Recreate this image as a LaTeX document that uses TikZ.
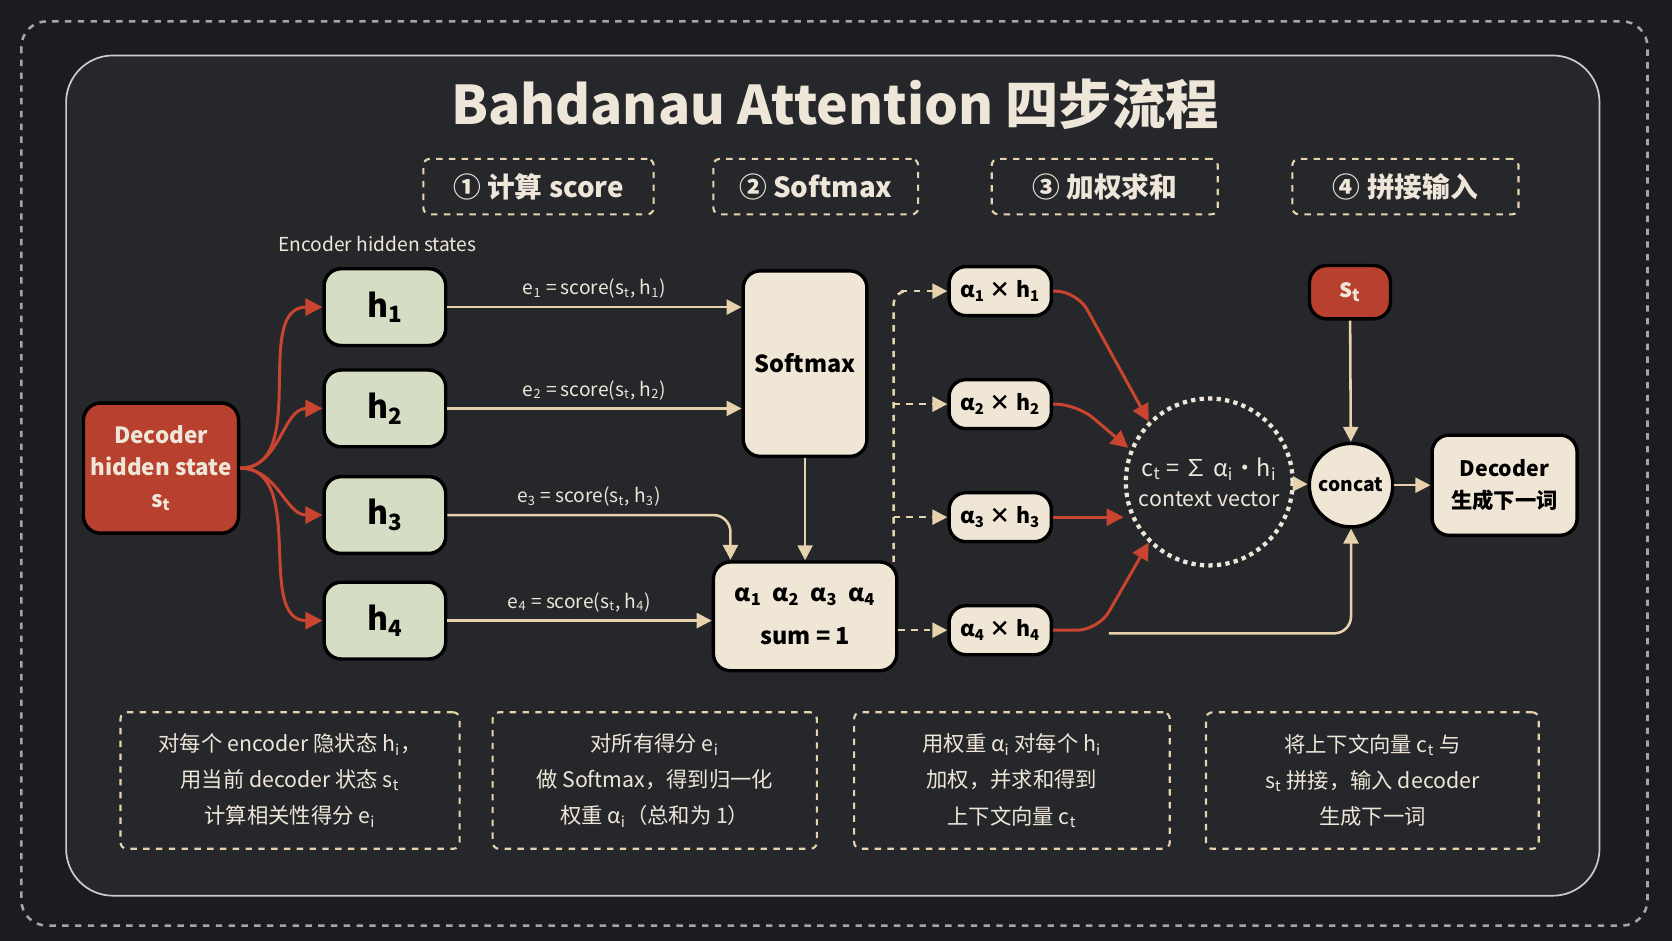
\documentclass[tikz,border=0pt]{standalone}
\usepackage{fontspec}
\setmainfont{Noto Sans CJK SC}
\usetikzlibrary{arrows.meta}

\definecolor{bgdark}{HTML}{1B1C1F}
\definecolor{panel}{HTML}{26272B}
\definecolor{cream}{HTML}{EFE6D6}
\definecolor{line}{HTML}{E6D3AE}
\definecolor{redbox}{HTML}{B8402E}
\definecolor{redline}{HTML}{C9452F}
\definecolor{greenbox}{HTML}{D5DEC4}
\definecolor{txt}{HTML}{EEE6D8}

\newcommand{\sub}[1]{\textsubscript{#1}}

\begin{document}
\begin{tikzpicture}[x=0.5pt, y=-0.5pt, font=\bfseries]
\tikzset{
  card/.style = {rectangle, rounded corners=8pt, draw=black, line width=1.6pt, text=black, font=\bfseries\fontsize{11}{13}\selectfont},
  hbox/.style = {card, fill=greenbox, minimum width=57pt, minimum height=36pt, font=\bfseries\fontsize{15}{17}\selectfont},
  pbox/.style = {card, fill=cream, minimum width=48pt, minimum height=23pt, font=\bfseries\fontsize{10}{12}\selectfont},
  stepbox/.style = {rectangle, rounded corners=3pt, draw=line, dashed, line width=1pt, text=txt, font=\bfseries\fontsize{13}{15}\selectfont},
  notebox/.style = {rectangle, rounded corners=3pt, draw=line, dashed, line width=1pt, text=txt, align=center, font=\fontsize{10}{17}\selectfont},
  arr/.style = {-{Triangle[length=7pt,width=7pt]}, line width=1.2pt, draw=line},
  redarr/.style = {-{Triangle[length=8pt,width=8pt]}, line width=1.4pt, draw=redline},
  dasharr/.style = {arr, dashed},
  elabel/.style = {text=txt, font=\fontsize{9}{11}\selectfont}
}
% background
\fill[bgdark] (0,0) rectangle (1568,882);
\useasboundingbox (0,0) rectangle (1568,882);
\draw[line width=1.2pt, dashed, draw=gray!70, rounded corners=12pt] (20,20) rectangle (1545,868);
\draw[fill=panel, draw=gray!40, line width=0.8pt, rounded corners=22pt] (62,52) rectangle (1500,840);

\node[text=txt, font=\bfseries\fontsize{25}{28}\selectfont] (title) at (783,98) {Bahdanau Attention 四步流程};

% steps
\node[stepbox, minimum width=108pt, minimum height=26pt] (s1) at (505,175) {① 计算 score};
\node[stepbox, minimum width=96pt, minimum height=26pt] (s2) at (765,175) {② Softmax};
\node[stepbox, minimum width=106pt, minimum height=26pt] (s3) at (1036,175) {③ 加权求和};
\node[stepbox, minimum width=106pt, minimum height=26pt] (s4) at (1318,175) {④ 拼接输入};

\node[text=txt, font=\fontsize{9}{11}\selectfont] (enclab) at (354,229) {Encoder hidden states};

% decoder state and encoder states
\node[card, fill=redbox, text=txt, align=center, minimum width=63pt, minimum height=61pt, font=\bfseries\fontsize{10.5}{15}\selectfont] (dec) at (151,439) {Decoder\\hidden state\\s\sub{t}};
\node[hbox] (h1) at (361,288) {h\sub{1}};
\node[hbox] (h2) at (361,383) {h\sub{2}};
\node[hbox] (h3) at (361,483) {h\sub{3}};
\node[hbox] (h4) at (361,582) {h\sub{4}};

\node[card, fill=cream, minimum width=58pt, minimum height=87pt] (soft) at (755,341) {Softmax};
\node[card, fill=cream, minimum width=86pt, minimum height=51pt, align=center, font=\bfseries\fontsize{11}{20}\selectfont] (alpha) at (755,578) {α\sub{1}\ \ α\sub{2}\ \ α\sub{3}\ \ α\sub{4}\\sum = 1};

\node[pbox] (p1) at (938,273) {α\sub{1} × h\sub{1}};
\node[pbox] (p2) at (938,379) {α\sub{2} × h\sub{2}};
\node[pbox] (p3) at (938,485) {α\sub{3} × h\sub{3}};
\node[pbox] (p4) at (938,591) {α\sub{4} × h\sub{4}};

\node[circle, draw=txt, dotted, line width=2pt, minimum size=72pt, text=txt, align=center, font=\fontsize{10}{14}\selectfont] (ctx) at (1134,452) {\fontsize{11}{13}\selectfont c\sub{t} = ∑ α\sub{i}·h\sub{i}\\context vector};
\node[card, fill=redbox, text=txt, minimum width=38pt, minimum height=25pt, font=\bfseries\fontsize{12}{14}\selectfont] (st) at (1266,274) {s\sub{t}};
\node[circle, fill=cream, draw=black, line width=1.6pt, minimum size=36pt, font=\bfseries\fontsize{9}{11}\selectfont] (concat) at (1267,455) {concat};
\node[card, fill=cream, align=center, minimum width=68pt, minimum height=47pt, font=\bfseries\fontsize{10}{15}\selectfont] (out) at (1411,455) {Decoder\\生成下一词};
\coordinate (tail) at (1040,594);

% decoder to encoder states
\foreach \h in {h1,h2,h3,h4}
  \draw[redarr] (dec) to[out=0, in=180] (\h.west);

% scores
\draw[arr] (h1.east) -- node[above, elabel] {e\sub{1} = score(s\sub{t}, h\sub{1})} (soft.west |- h1.east);
\draw[arr] (h2.east) -- node[above, elabel] {e\sub{2} = score(s\sub{t}, h\sub{2})} (soft.west |- h2.east);
\draw[arr, rounded corners=8pt] (h3.east) -- node[above, elabel] {e\sub{3} = score(s\sub{t}, h\sub{3})} (685,483) -- (685,525);
\draw[arr] (h4.east) -- node[above, elabel] {e\sub{4} = score(s\sub{t}, h\sub{4})} (alpha.west |- h4.east);
\draw[arr] (soft) -- (alpha);

% weights to products
\draw[line, dashed, line width=1.2pt, rounded corners=6pt] (838,527) -- (838,273) -- (845,273);
\draw[dasharr] (845,273) -- (p1);
\draw[dasharr] (838,379) -- (p2);
\draw[dasharr] (838,485) -- (p3);
\draw[dasharr] (alpha.east |- p4) -- (p4);

% products to context
\draw[redarr, rounded corners=10pt] (p1.east) -- (1010,273) -- (ctx.north west);
\draw[redarr, rounded corners=10pt] (p2.east) -- (1010,379) -- (1058,420);
\draw[redarr] (p3.east) -- (ctx.west |- p3.east);
\draw[redarr, rounded corners=10pt] (p4.east) -- (1030,591) -- (ctx.south west);

% concat
\draw[arr] (ctx) -- (concat);
\draw[arr] (st) -- (concat);
\draw[arr] (concat) -- (out);
\draw[line, line width=1.2pt, rounded corners=8pt, -{Triangle[length=7pt,width=7pt]}] (tail) -- (1267,594) -- (concat.south);

% notes
\node[notebox, minimum width=159pt, minimum height=64pt] (n1) at (272,732) {对每个 encoder 隐状态 h\sub{i}，\\用当前 decoder 状态 s\sub{t}\\计算相关性得分 e\sub{i}};
\node[notebox, minimum width=152pt, minimum height=64pt] (n2) at (614,732) {对所有得分 e\sub{i}\\做 Softmax，得到归一化\\权重 α\sub{i}（总和为 1）};
\node[notebox, minimum width=148pt, minimum height=64pt] (n3) at (949,732) {用权重 α\sub{i} 对每个 h\sub{i}\\加权，并求和得到\\上下文向量 c\sub{t}};
\node[notebox, minimum width=156pt, minimum height=64pt] (n4) at (1287,732) {将上下文向量 c\sub{t} 与\\s\sub{t} 拼接，输入 decoder\\生成下一词};
\end{tikzpicture}
\end{document}
